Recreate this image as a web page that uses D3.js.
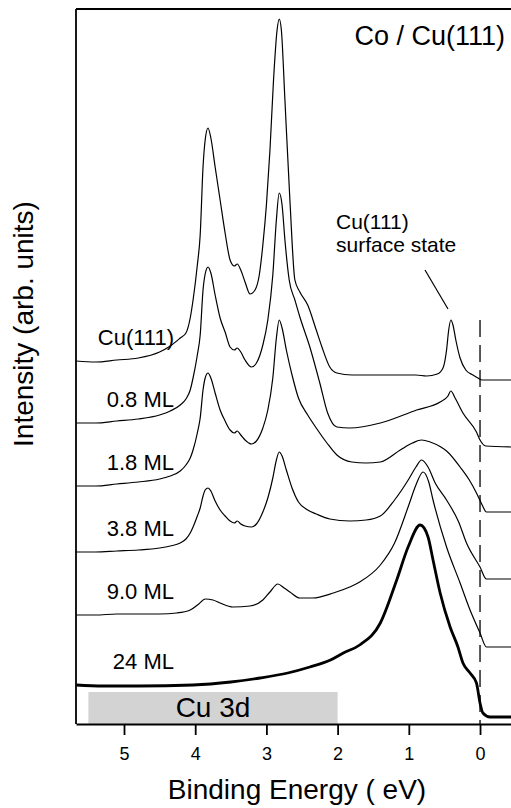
<!DOCTYPE html>
<meta charset="utf-8">
<style>
body { margin: 0; background: #fff; }
text { font-family: "Liberation Sans", Arial, Helvetica, sans-serif; fill: #000; }
.spec { fill: none; stroke: #000; stroke-width: 1.2px; stroke-linejoin: round; }
.thick { stroke-width: 2.8px; }
.axis path, .axis line { stroke: #000; stroke-width: 1.8px; }
.axis text { font-size: 18px; }
</style>
<body>
<script src="https://d3js.org/d3.v7.min.js"></script>
<script>

// spectra: [binding energy (eV), stacked intensity (arb. units)]
var names = ["Cu(111)", "0.8 ML", "1.8 ML", "3.8 ML", "9.0 ML", "24 ML"];

var cu111 = [[5.67,36.3],[5.40,36.2],[5.10,36.4],[4.80,36.6],[4.50,37.2],[4.35,37.8],[4.21,38.6],[4.13,39.1],[4.07,40.6],[4.03,42.4],[3.97,45.9],[3.93,48.9],[3.89,55.7],[3.86,58.4],[3.82,59.6],[3.78,58.6],[3.72,55.7],[3.65,52.4],[3.58,49.1],[3.51,46.4],[3.45,45.8],[3.41,46.0],[3.36,45.4],[3.30,44.2],[3.23,43.0],[3.16,43.4],[3.10,44.9],[3.05,47.9],[3.00,51.9],[2.95,57.4],[2.90,64.4],[2.85,69.4],[2.82,70.5],[2.79,69.4],[2.74,62.4],[2.67,52.4],[2.60,44.4],[2.53,43.2],[2.42,41.9],[2.30,39.4],[2.22,37.7],[2.11,35.7],[2.01,35.1],[1.80,34.9],[1.40,34.9],[0.90,34.9],[0.75,34.8],[0.60,35.0],[0.52,35.6],[0.47,37.4],[0.44,39.4],[0.41,40.4],[0.38,39.9],[0.34,38.4],[0.28,36.6],[0.20,35.4],[0.10,34.9],[0.03,34.6],[-0.03,34.4],[-0.44,34.4]];

var ml08 = [[5.67,30.1],[5.40,30.1],[5.10,30.3],[4.80,30.5],[4.50,30.9],[4.35,31.3],[4.21,31.9],[4.13,32.5],[4.07,33.4],[4.03,34.6],[3.97,36.9],[3.93,38.9],[3.89,43.4],[3.86,45.0],[3.82,45.7],[3.78,45.1],[3.72,42.9],[3.65,40.6],[3.58,39.2],[3.51,37.7],[3.45,37.4],[3.41,37.6],[3.36,37.2],[3.30,36.4],[3.21,35.7],[3.14,36.1],[3.05,37.9],[2.98,40.4],[2.91,44.9],[2.86,50.4],[2.82,53.1],[2.78,51.9],[2.74,48.4],[2.68,44.4],[2.60,42.4],[2.53,40.7],[2.39,37.7],[2.25,34.1],[2.14,31.1],[2.01,29.7],[1.83,29.6],[1.40,30.1],[0.89,31.4],[0.56,32.2],[0.45,32.8],[0.41,33.3],[0.35,32.6],[0.24,31.1],[0.05,29.2],[0.00,28.4],[-0.08,27.8],[-0.44,27.7]];

var ml18 = [[5.67,23.8],[5.40,23.8],[5.10,24.0],[4.80,24.2],[4.50,24.5],[4.35,24.8],[4.21,25.3],[4.13,25.9],[4.07,26.6],[4.03,27.4],[3.97,29.1],[3.93,30.6],[3.89,33.4],[3.86,34.6],[3.82,35.1],[3.78,34.6],[3.72,33.1],[3.65,31.4],[3.58,30.3],[3.51,29.4],[3.45,29.1],[3.41,29.3],[3.36,28.9],[3.30,28.4],[3.21,28.0],[3.14,28.3],[3.05,29.6],[2.98,31.4],[2.91,34.6],[2.86,38.6],[2.82,40.4],[2.78,39.6],[2.72,37.4],[2.64,34.9],[2.55,32.6],[2.42,30.9],[2.30,29.6],[2.15,28.1],[2.01,26.9],[1.80,26.2],[1.60,26.1],[1.40,26.2],[1.12,27.4],[0.95,28.1],[0.82,28.4],[0.70,28.2],[0.55,27.7],[0.47,27.3],[0.28,25.7],[0.15,24.4],[0.05,23.1],[-0.03,21.9],[-0.09,21.2],[-0.44,21.2]];

var ml38 = [[5.67,17.2],[5.40,17.2],[5.10,17.3],[4.80,17.4],[4.50,17.6],[4.35,17.8],[4.21,18.1],[4.13,18.5],[4.07,19.1],[4.03,19.7],[3.97,20.8],[3.93,21.6],[3.89,22.8],[3.86,23.4],[3.82,23.6],[3.78,23.3],[3.72,22.3],[3.65,21.4],[3.58,20.8],[3.51,20.3],[3.45,20.1],[3.41,20.3],[3.36,20.0],[3.30,19.8],[3.21,19.7],[3.14,20.0],[3.05,21.2],[2.98,22.6],[2.91,24.6],[2.86,26.4],[2.82,27.2],[2.78,26.8],[2.72,25.4],[2.64,23.6],[2.55,22.2],[2.42,21.4],[2.30,21.0],[2.11,20.5],[1.83,20.3],[1.60,20.4],[1.40,20.8],[1.20,22.4],[1.00,24.5],[0.90,25.7],[0.82,26.4],[0.73,25.7],[0.63,24.1],[0.47,22.4],[0.30,20.2],[0.19,18.1],[0.00,15.7],[-0.09,14.5],[-0.44,14.5]];

var ml90 = [[5.67,10.9],[5.40,10.9],[5.10,11.0],[4.80,11.0],[4.50,11.0],[4.26,11.1],[4.07,11.4],[3.95,12.0],[3.86,12.5],[3.75,12.4],[3.65,12.1],[3.47,11.7],[3.23,11.8],[3.05,12.4],[2.95,13.2],[2.84,14.0],[2.75,13.6],[2.67,13.2],[2.53,12.6],[2.35,12.6],[2.06,13.1],[1.83,13.7],[1.69,14.2],[1.40,15.9],[1.20,18.1],[1.00,21.9],[0.90,23.9],[0.80,25.2],[0.72,24.2],[0.66,22.4],[0.47,17.7],[0.28,14.1],[0.14,11.4],[0.00,9.1],[-0.09,7.7],[-0.44,7.7]];

var ml24 = [[5.67,3.9],[5.30,3.8],[4.80,3.8],[4.03,3.9],[3.50,4.2],[3.09,4.6],[2.70,5.1],[2.39,5.7],[2.10,6.4],[1.92,7.1],[1.69,7.9],[1.40,10.1],[1.17,14.4],[1.01,17.7],[0.84,19.9],[0.73,18.7],[0.66,16.4],[0.56,13.1],[0.42,9.7],[0.31,7.7],[0.24,6.1],[0.14,5.1],[0.05,4.1],[0.00,2.1],[-0.04,1.1],[-0.14,0.7],[-0.44,0.7]];

var spectra = [cu111, ml08, ml18, ml38, ml90, ml24];
var xTicks = [5, 4, 3, 2, 1, 0];
var cu3d = [5.5, 2.0];   // Cu 3d band range (eV)
var fermi = 0;

var W = 511, H = 808;
var margin = {top: 9, left: 76, bottom: 84};

var svg = d3.select("body").append("svg")
    .attr("width", W)
    .attr("height", H);

// binding energy increases to the left
var x = d3.scaleLinear().domain([5.674, -0.435]).range([margin.left, W]);
var y = d3.scaleLinear().domain([0, 71.5]).range([H - margin.bottom, margin.top]);

var line = d3.line()
    .x(function(d) { return x(d[0]); })
    .y(function(d) { return y(d[1]); })
    .curve(d3.curveMonotoneX);

// Cu 3d band
svg.append("rect")
    .attr("x", x(cu3d[0]))
    .attr("y", y(3.2))
    .attr("width", x(cu3d[1]) - x(cu3d[0]))
    .attr("height", y(0) - y(3.2))
    .style("fill", "#d3d3d3");
svg.append("text")
    .attr("x", x((cu3d[0] + cu3d[1]) / 2))
    .attr("y", y(0.7))
    .attr("text-anchor", "middle")
    .style("font-size", "28px")
    .text("Cu 3d");

// Fermi level
svg.append("line")
    .attr("x1", x(fermi)).attr("x2", x(fermi))
    .attr("y1", y(40.4)).attr("y2", y(0))
    .style("stroke", "#000")
    .style("stroke-width", "1.3px")
    .style("stroke-dasharray", "17,8");

// spectra
svg.selectAll(".spec")
    .data(spectra)
  .enter().append("path")
    .attr("class", function(d, i) { return i === spectra.length - 1 ? "spec thick" : "spec"; })
    .attr("d", line);

// curve labels
svg.selectAll(".lab")
    .data(spectra)
  .enter().append("text")
    .attr("class", "lab")
    .attr("x", 174)
    .attr("y", function(d) { return y(d[0][1]) - 16; })
    .attr("text-anchor", "end")
    .style("font-size", "22px")
    .text(function(d, i) { return names[i]; });

// frame
svg.append("line")
    .attr("x1", margin.left).attr("x2", margin.left)
    .attr("y1", margin.top).attr("y2", H - margin.bottom)
    .style("stroke", "#000").style("stroke-width", "1.8px");
svg.append("line")
    .attr("x1", margin.left).attr("x2", W)
    .attr("y1", margin.top).attr("y2", margin.top)
    .style("stroke", "#000").style("stroke-width", "1.8px");

// x axis
svg.append("g")
    .attr("class", "axis")
    .attr("transform", "translate(0," + (H - margin.bottom) + ")")
    .call(d3.axisBottom(x).tickValues(xTicks).tickSize(11).tickSizeOuter(0).tickPadding(12).tickFormat(d3.format("d")))
    .call(function(g) { g.selectAll("text").style("font-family", null); });

svg.append("text")
    .attr("x", 297)
    .attr("y", 799)
    .attr("text-anchor", "middle")
    .style("font-size", "28px")
    .text("Binding Energy ( eV)");

svg.append("text")
    .attr("transform", "translate(33,324) rotate(-90)")
    .attr("text-anchor", "middle")
    .style("font-size", "28px")
    .text("Intensity (arb. units)");

// annotations
svg.append("text")
    .attr("x", 505)
    .attr("y", 45)
    .attr("text-anchor", "end")
    .style("font-size", "27px")
    .text("Co / Cu(111)");

var ss = svg.append("text")
    .attr("x", 336)
    .attr("y", 229)
    .style("font-size", "21px");
ss.append("tspan").attr("x", 336).text("Cu(111)");
ss.append("tspan").attr("x", 336).attr("dy", 23).text("surface state");

svg.append("line")
    .attr("x1", 425).attr("y1", 270)
    .attr("x2", 448).attr("y2", 309)
    .style("stroke", "#000")
    .style("stroke-width", "1.2px");

</script>
</body>
